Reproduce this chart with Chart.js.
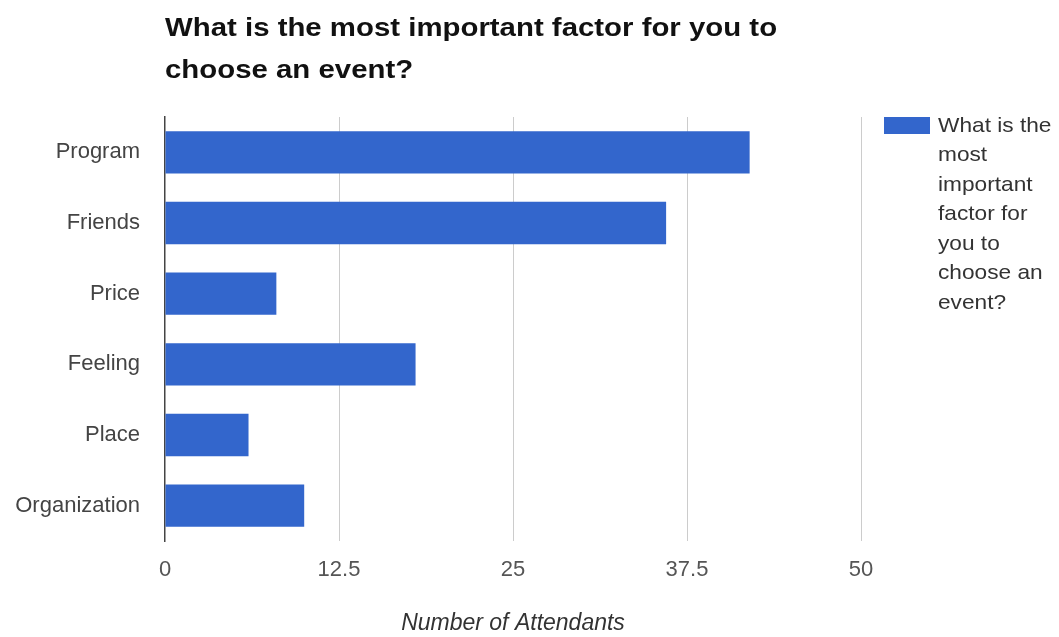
<!DOCTYPE html>
<html>
<head>
<meta charset="utf-8">
<script src="https://cdn.jsdelivr.net/npm/chart.js@4/dist/chart.umd.min.js"></script>
<style>
  html, body { margin: 0; padding: 0; background: #fff; }
  #wrap { width: 1059px; height: 637px; }
</style>
</head>
<body>
<div id="wrap"><canvas id="myChart" width="1059" height="637"></canvas></div>
<script>
"use strict";
// data
const titleLines = ["What is the most important factor for you to", "choose an event?"];
const seriesName = "What is the most important factor for you to choose an event?";
const categories = ["Program", "Friends", "Price", "Feeling", "Place", "Organization"];
const attendants = [42, 36, 8, 18, 6, 10];
const xTicks = [0, 12.5, 25, 37.5, 50];
const xTitle = "Number of Attendants";

const FONT = "'Liberation Sans', Arial, sans-serif";
const barColor = "#3366cc";

// title + wrapped legend on the right, drawn by hand
// (the reference text looks stretched sideways, so scale x a bit)
const extras = {
  id: "extras",
  afterDraw(chart) {
    const ctx = chart.ctx;
    ctx.save();
    ctx.fillStyle = "#111";
    ctx.font = "bold 26px " + FONT;
    ctx.textBaseline = "middle";
    ctx.textAlign = "left";
    titleLines.forEach((line, i) => {
      ctx.save();
      ctx.translate(165, 29 + i * 42);
      ctx.scale(1.13, 1);
      ctx.fillText(line, 0, 0);
      ctx.restore();
    });

    // legend
    const ds = chart.data.datasets[0];
    ctx.fillStyle = ds.backgroundColor;
    ctx.fillRect(884, 117, 46, 17);
    ctx.font = "21px " + FONT;
    ctx.fillStyle = "#333";
    const words = ds.label.split(" ");
    const maxW = 108;
    let lines = [];
    let cur = "";
    words.forEach((w) => {
      const test = cur ? cur + " " + w : w;
      if (ctx.measureText(test).width > maxW && cur) {
        lines.push(cur);
        cur = w;
      } else {
        cur = test;
      }
    });
    if (cur) lines.push(cur);
    lines.forEach((line, i) => {
      ctx.save();
      ctx.translate(938, 126 + i * 29.5);
      ctx.scale(1.08, 1);
      ctx.fillText(line, 0, 0);
      ctx.restore();
    });
    ctx.restore();
  },
};

const ctx = document.getElementById("myChart");
new Chart(ctx, {
  type: "bar",
  data: {
    labels: categories,
    datasets: [
      {
        label: seriesName,
        data: attendants,
        backgroundColor: barColor,
        barPercentage: 0.6,
        categoryPercentage: 1,
      },
    ],
  },
  options: {
    indexAxis: "y",
    responsive: false,
    animation: false,
    layout: { padding: { top: 117, right: 198, bottom: 0, left: 0 } },
    plugins: {
      legend: { display: false },
      title: { display: false },
      tooltip: { enabled: false },
    },
    scales: {
      x: {
        min: 0,
        max: 50,
        afterBuildTicks: (axis) => {
          axis.ticks = xTicks.map((v) => ({ value: v }));
        },
        afterFit: (axis) => {
          axis.height = 96;
        },
        grid: {
          color: (c) => (c.tick && c.tick.value === 0 ? "rgba(0,0,0,0)" : "#cccccc"),
          drawTicks: false,
        },
        border: { display: false },
        ticks: {
          padding: 16,
          color: "#555",
          font: { family: FONT, size: 22 },
          callback: (v) => String(v),
        },
        title: {
          display: true,
          text: xTitle,
          color: "#333",
          padding: { top: 0, bottom: 0 },
          font: { family: FONT, size: 23, style: "italic" },
        },
      },
      y: {
        afterFit: (axis) => {
          axis.width = 165;
        },
        grid: { display: false, drawTicks: false },
        border: { display: true, color: "#444", width: 1.5 },
        ticks: {
          padding: 25,
          color: "#444",
          font: { family: FONT, size: 22 },
        },
      },
    },
  },
  plugins: [extras],
});
</script>
</body>
</html>
